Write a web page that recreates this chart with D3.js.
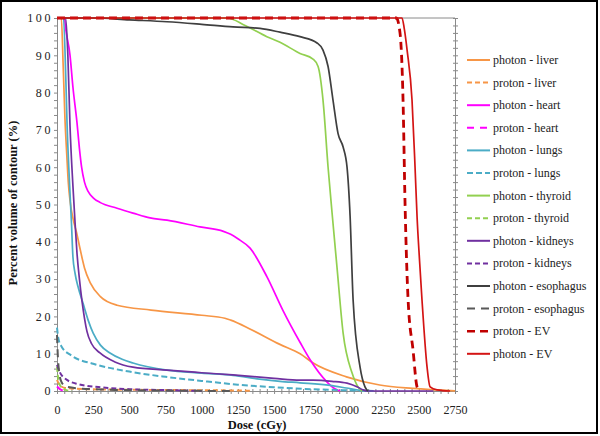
<!DOCTYPE html>
<html><head><meta charset="utf-8">
<script src="https://cdn.jsdelivr.net/npm/d3@7"></script>
<style>
body{margin:0;background:#fff;}
text{font-family:"Liberation Serif","Times New Roman",serif;}
</style></head>
<body><svg id="c" width="600" height="436"></svg>
<script>
// ---- data: [dose (cGy), percent volume (%)] ----
const photonLiver = [[0,100],[30,100],[42,88],[55,73],[68,63],[78,56],[90,51],[112,46],[135,42.5],[160,38],[190,33],[230,29],[300,25.3],[415,23],[650,21.7],[1000,20.3],[1160,19.5],[1200,19],[1340,16.5],[1540,12.5],[1680,10],[1770,7.5],[2000,3.8],[2230,1.6],[2460,0.7],[2750,0.05]];
const protonLiver = [[0,3],[20,1.5],[60,0.8],[200,0.5],[600,0.3],[1000,0.2],[1300,0.1],[1350,0]];
const photonHeart = [[0,100],[50,100],[60,97],[90,90],[110,81.5],[138,72],[155,65],[170,60],[190,56],[215,53.5],[250,51.8],[300,50.5],[415,49],[525,47.7],[643,46.4],[760,45.8],[988,44],[1150,42.8],[1200,42],[1250,40.8],[1334,38.3],[1451,30.6],[1560,21.7],[1680,13],[1750,8.3],[1866,2.4],[1920,0.6],[1956,0]];
const protonHeart = [[0,1.2],[20,0.5],[50,0]];
const photonLungs = [[0,100],[45,100],[60,85],[70,71],[85,57],[100,45],[110,36],[125,31.5],[145,28],[180,23.5],[215,19],[250,15.5],[300,12.3],[366,10.2],[450,8.5],[525,7.5],[760,5.6],[1000,4.8],[1216,4.2],[1400,3.2],[1541,2.6],[1679,2.2],[1887,1.5],[2000,0.8],[2094,0.2],[2150,0]];
const protonLungs = [[0,17],[10,14],[30,12],[100,9.5],[250,7.3],[500,5.2],[750,3.8],[1000,2.7],[1250,1.7],[1500,1],[1750,0.5],[2000,0.2],[2200,0]];
const photonThyroid = [[0,100],[1175,100],[1300,98],[1450,95],[1541,93.5],[1679,90.5],[1769,89],[1804,87],[1838,78],[1873,60],[1900,48],[1935,33],[1977,15.5],[2039,4.8],[2080,1.1],[2108,0]];
const protonThyroid = [[0,6.5],[10,3],[30,1],[60,0.3],[100,0]];
const photonKidneys = [[0,100],[60,100],[75,90],[90,71],[110,55],[125,45],[138,37],[155,30],[173,24],[190,19.5],[207,16],[240,12.6],[297,10.2],[400,7.8],[525,6.4],[760,5.6],[1000,4.9],[1216,4.3],[1500,3.4],[1679,2.9],[1769,2.9],[1900,2.6],[2004,2.1],[2080,1],[2115,0.3],[2150,0],[2600,0]];
const protonKidneys = [[0,7],[20,5],[60,3.2],[150,1.8],[300,1],[500,0.5],[800,0.2],[1000,0]];
const photonEsophagus = [[0,100],[250,100],[500,99.5],[760,99],[1000,98.3],[1216,97.6],[1403,97.2],[1541,96.2],[1679,95],[1797,93.3],[1838,91.4],[1873,87],[1907,78],[1942,69],[1977,65.4],[2004,60],[2025,47],[2046,24.4],[2094,6.4],[2128,1.1],[2149,0]];
const protonEsophagus = [[0,15],[5,10],[15,5],[30,2.5],[60,1.2],[150,0.7],[400,0.3],[800,0.1],[1200,0]];
const protonEV = [[0,100],[2345,100],[2370,96],[2391,78],[2405,50],[2426,24.4],[2460,11],[2488,1.1],[2509,0]];
const photonEV = [[0,100],[2384,100],[2400,97],[2419,91.4],[2453,78],[2474,60],[2488,46.6],[2505,35],[2522,24.4],[2557,6.4],[2578,1.1],[2626,0.3],[2716,0]];

const seriesNames = ["photon - liver","proton - liver","photon - heart","proton - heart","photon - lungs","proton - lungs","photon - thyroid","proton - thyroid","photon - kidneys","proton - kidneys","photon - esophagus","proton - esophagus","proton - EV","photon - EV"];
const seriesValues = [photonLiver,protonLiver,photonHeart,protonHeart,photonLungs,protonLungs,photonThyroid,protonThyroid,photonKidneys,protonKidneys,photonEsophagus,protonEsophagus,protonEV,photonEV];
const xTickLabels = [0,250,500,750,1000,1250,1500,1750,2000,2250,2500,2750];
const yTickLabels = [0,10,20,30,40,50,60,70,80,90,100];
const xTitle = "Dose (cGy)";
const yTitle = "Percent volume of contour (%)";

// ---- styles ----
const colors = ["#F79646","#F79646","#FF00FF","#FF00FF","#4BACC6","#4BACC6","#92D050","#92D050","#7030A0","#7030A0","#3F3F3F","#595959","#C00000","#D41414"];
const dashes = [null,"5,3",null,"7,6",null,"6,3",null,"5,3",null,"5,3",null,"8,6","8,5",null];
const widths = [1.7,2,1.7,2,1.7,2,1.7,2,1.7,2,1.7,2,2.8,1.7];

const svg = d3.select("#c");
svg.append("rect").attr("x",1).attr("y",1).attr("width",596).attr("height",432)
  .attr("fill","#fff").attr("stroke","#000").attr("stroke-width",2);

const x = d3.scaleLinear().domain([0,2750]).range([57,455]);
const y = d3.scaleLinear().domain([0,100]).range([391,18]);
const axisColor = "#8a8a8a";

// plot frame (top + right)
svg.append("line").attr("x1",x(0)).attr("x2",x(2750)).attr("y1",y(100)).attr("y2",y(100)).attr("stroke",axisColor);
const gr = svg.append("g").attr("transform",`translate(${x(2750)},0)`)
  .call(d3.axisRight(y).tickValues(d3.range(0,101,2)).tickSizeInner(3).tickSizeOuter(0).tickFormat(""));
gr.selectAll("line").attr("x1",-2).attr("stroke",axisColor);
gr.select(".domain").attr("stroke",axisColor);

// left axis
const gl = svg.append("g").attr("transform",`translate(${x(0)},0)`)
  .call(d3.axisLeft(y).tickValues(d3.range(0,101,2)).tickSizeInner(3).tickSizeOuter(0).tickPadding(1)
    .tickFormat(d => yTickLabels.includes(d) ? d : ""));
gl.select(".domain").attr("stroke",axisColor);
gl.selectAll("line").attr("stroke",axisColor).attr("x2",-3).attr("x1",1);
gl.selectAll("text").attr("font-size",12).attr("fill","#222").style("letter-spacing","2.6px")
  .attr("font-family","Liberation Serif, serif");

// bottom axis
const gb = svg.append("g").attr("transform",`translate(0,${y(0)})`)
  .call(d3.axisBottom(x).tickValues(d3.range(0,2751,50)).tickSizeInner(3).tickSizeOuter(0).tickPadding(11)
    .tickFormat(d => xTickLabels.includes(d) ? d : ""));
gb.select(".domain").attr("stroke",axisColor);
gb.selectAll("line").attr("stroke",axisColor).attr("y1",-2);
gb.selectAll("text").attr("font-size",12).attr("fill","#222").attr("font-family","Liberation Serif, serif");

// titles
svg.append("text").attr("x",257).attr("y",429).attr("text-anchor","middle")
  .attr("font-size",12.5).attr("font-weight","bold").attr("fill","#111").text(xTitle);
svg.append("text").attr("transform","translate(17,203) rotate(-90)").attr("text-anchor","middle")
  .attr("font-size",12.5).attr("font-weight","bold").attr("fill","#111").text(yTitle);

// series
const line = d3.line().x(d => x(d[0])).y(d => y(d[1])).curve(d3.curveMonotoneX);
seriesValues.forEach((s,i) => {
  svg.append("path").datum(s).attr("d",line).attr("fill","none")
    .attr("stroke",colors[i]).attr("stroke-width",widths[i])
    .attr("stroke-dasharray",dashes[i]).attr("stroke-linejoin","round");
});

// legend
const lg = svg.append("g");
seriesNames.forEach((n,i) => {
  const yy = 60 + i*22.6;
  lg.append("line").attr("x1",467).attr("x2",490).attr("y1",yy).attr("y2",yy)
    .attr("stroke",colors[i]).attr("stroke-width",widths[i] > 2 ? 2.5 : 2).attr("stroke-dasharray",dashes[i]);
  lg.append("text").attr("x",493).attr("y",yy).attr("dy","0.33em").attr("font-size",12)
    .attr("fill","#222").text(n);
});
</script></body></html>
